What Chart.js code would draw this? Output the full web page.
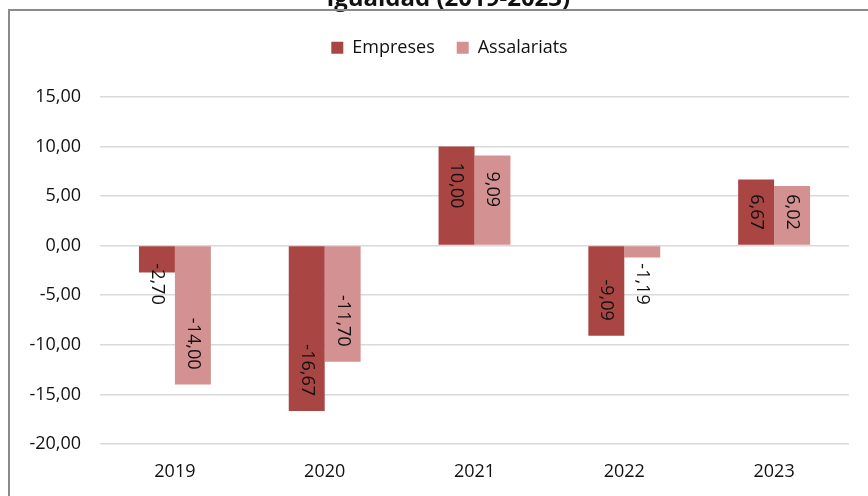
<!DOCTYPE html>
<html>
<head>
<meta charset="utf-8">
<script src="https://cdn.jsdelivr.net/npm/chart.js@4.4.1/dist/chart.umd.min.js"></script>
<style>
  body { margin: 0; background: #fff; overflow: hidden; width: 868px; height: 496px; }
  #wrap { position: absolute; left: 0; top: -20px; width: 849px; height: 516px; }
  #frame { position: absolute; left: 8px; top: 9px; width: 900px; height: 600px;
           border-left: 2px solid #8a8a8a; border-top: 2px solid #8a8a8a; pointer-events: none; }
</style>
</head>
<body>
<div id="wrap"><canvas id="chart"></canvas></div>
<div id="frame"></div>
<script>
const years = ['2019', '2020', '2021', '2022', '2023'];
const empreses = [-2.70, -16.67, 10.00, -9.09, 6.67];
const assalariats = [-14.00, -11.70, 9.09, -1.19, 6.02];
const yTicks = [15, 10, 5, 0, -5, -10, -15, -20];

const FONT = '"Open Sans", sans-serif';
const SIZE = 18;
const fmt = v => v.toFixed(2).replace('.', ',');

// labels turned 90 degrees, inside the far end of each bar
const barLabels = {
  id: 'barLabels',
  afterDatasetsDraw(chart) {
    const ctx = chart.ctx;
    ctx.save();
    ctx.font = SIZE + 'px ' + FONT;
    ctx.fillStyle = '#111';
    ctx.textAlign = 'left';
    ctx.textBaseline = 'middle';
    chart.data.datasets.forEach((ds, i) => {
      chart.getDatasetMeta(i).data.forEach((bar, j) => {
        const v = ds.data[j];
        const txt = fmt(v);
        const w = ctx.measureText(txt).width;
        let start;
        if (v >= 0) start = Math.min(bar.y + 16, bar.base - 15 - w);
        else start = Math.max(bar.base + 17, bar.y - 15 - w);
        ctx.save();
        ctx.translate(bar.x, start);
        ctx.rotate(Math.PI / 2);
        ctx.fillText(txt, 0, 0);
        ctx.restore();
      });
    });
    ctx.restore();
  }
};

// extra room under the legend, and title/legend moved a bit right
const headerFix = {
  id: 'headerFix',
  beforeInit(chart) {
    const fit = chart.legend.fit;
    chart.legend.fit = function () {
      fit.bind(chart.legend)();
      this.height += 30;
    };
  },
  afterLayout(chart) {
    chart.titleBlock.left += 24;
    chart.titleBlock.right += 24;
    chart.legend.left += 25;
    chart.legend.right += 25;
  }
};

new Chart(document.getElementById('chart'), {
  type: 'bar',
  data: {
    labels: years,
    datasets: [
      { label: 'Empreses', data: empreses, backgroundColor: '#a94644', categoryPercentage: 0.48, barPercentage: 1 },
      { label: 'Assalariats', data: assalariats, backgroundColor: '#d39291', categoryPercentage: 0.48, barPercentage: 1 }
    ]
  },
  options: {
    responsive: true,
    maintainAspectRatio: false,
    animation: false,
    layout: { padding: { left: 0, right: 0, top: 0, bottom: 0 } },
    plugins: {
      title: {
        display: true,
        text: 'igualdad (2019-2023)',
        color: '#111',
        font: { family: FONT, size: 24, weight: 'bold' },
        padding: { top: 5, bottom: 3 }
      },
      legend: {
        labels: {
          color: '#111',
          font: { family: FONT, size: SIZE },
          boxWidth: 12,
          boxHeight: 12,
          padding: 22
        }
      },
      tooltip: { enabled: false }
    },
    scales: {
      x: {
        grid: { display: false },
        border: { display: false },
        ticks: { color: '#111', font: { family: FONT, size: SIZE }, padding: 9 },
        afterFit(scale) { scale.height = 52; }
      },
      y: {
        min: -20,
        max: 15,
        afterBuildTicks(scale) { scale.ticks = yTicks.map(v => ({ value: v })); },
        grid: { color: '#d9d9d9', lineWidth: 1.5, drawTicks: false },
        border: { display: false },
        ticks: { color: '#111', font: { family: FONT, size: SIZE }, padding: 19, callback: v => fmt(v) },
        afterFit(scale) { scale.width = 100; }
      }
    }
  },
  plugins: [barLabels, headerFix]
});
</script>
</body>
</html>
